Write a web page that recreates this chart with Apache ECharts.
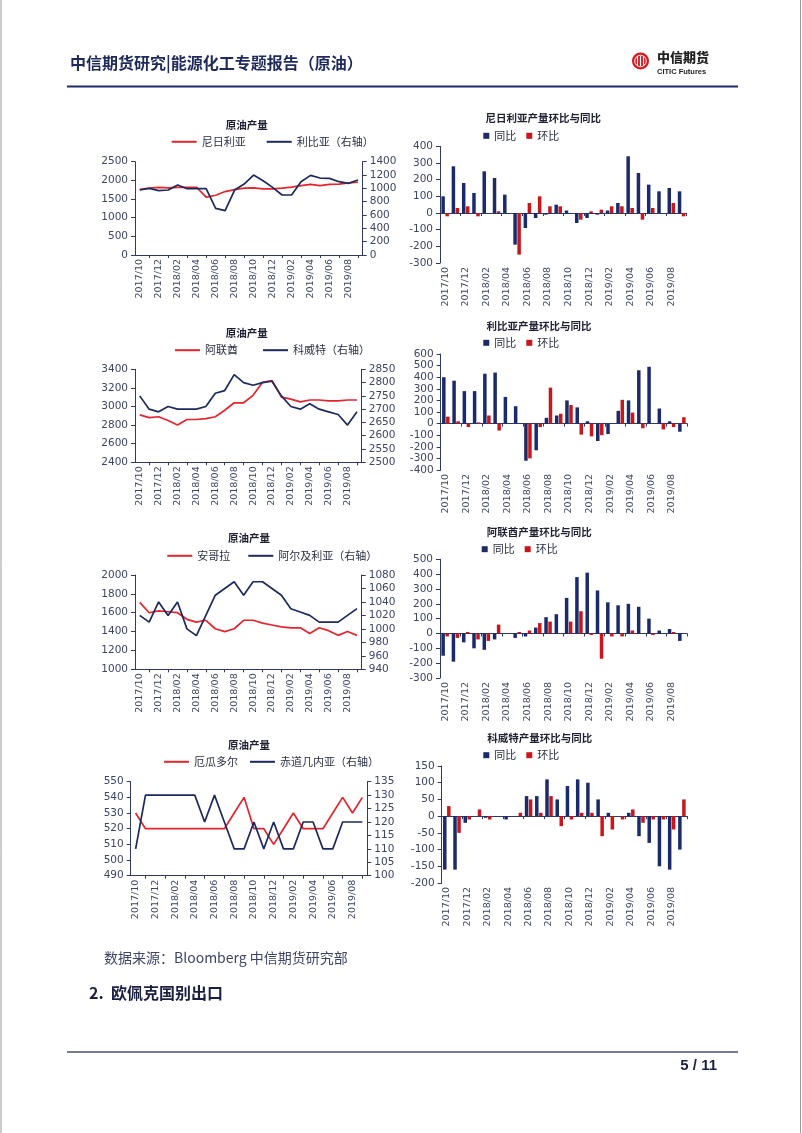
<!DOCTYPE html>
<html><head><meta charset="utf-8">
<script src="https://cdn.jsdelivr.net/npm/echarts@6/dist/echarts.min.js"></script>
<style>html,body{margin:0;padding:0;background:#fff}#c{width:802px;height:1133px}</style>
</head><body><div id="c"></div>
<script>
const months = ['2017/10','2017/11','2017/12','2018/01','2018/02','2018/03','2018/04','2018/05','2018/06','2018/07','2018/08','2018/09','2018/10','2018/11','2018/12','2019/01','2019/02','2019/03','2019/04','2019/05','2019/06','2019/07','2019/08','2019/09'];

const nigeria = [1760,1790,1810,1800,1810,1810,1810,1550,1600,1700,1750,1790,1800,1770,1770,1790,1820,1860,1890,1860,1890,1900,1930,1950];
const libya = [975,1000,965,975,1050,995,995,995,700,665,975,1065,1200,1115,1015,900,900,1100,1195,1155,1150,1100,1075,1125];
const uae = [2910,2880,2890,2850,2800,2860,2860,2870,2890,2960,3040,3040,3120,3260,3280,3100,3080,3050,3070,3070,3060,3060,3070,3070];
const kuwait = [2750,2700,2690,2710,2700,2700,2700,2710,2760,2770,2830,2800,2790,2800,2805,2750,2710,2700,2720,2700,2690,2680,2640,2690];
const angola = [1710,1600,1620,1610,1600,1530,1500,1520,1430,1400,1430,1520,1520,1490,1470,1450,1440,1440,1380,1440,1410,1360,1400,1360];
const algeria = [1020,1010,1040,1020,1040,1000,990,1020,1050,1060,1070,1050,1070,1070,1060,1050,1030,1025,1020,1010,1010,1010,1020,1030];
const ecuador = [530,520,520,520,520,520,520,520,520,520,530,540,520,520,510,520,530,520,520,520,530,540,530,540];
const eqGuinea = [110,130,130,130,130,130,130,120,130,120,110,110,120,110,120,110,110,120,120,110,110,120,120,120];

const nigeriaYoY = [100,280,180,120,250,210,110,-190,-90,-30,-10,50,15,-60,-30,-10,15,60,340,240,170,130,150,130];
const nigeriaMoM = [-20,30,40,-20,0,10,0,-250,60,100,40,40,0,-40,10,20,40,40,30,-40,30,0,60,-20];
const libyaYoY = [400,370,280,280,430,440,230,150,-320,-230,50,70,200,140,20,-150,-90,110,200,460,490,130,20,-70];
const libyaMoM = [60,20,-30,10,70,-60,0,0,-300,-30,310,85,160,-95,-110,-100,0,205,95,-40,0,-50,-30,55];
const uaeYoY = [-150,-190,-60,-100,-110,-40,0,-30,-20,40,110,130,240,380,410,290,210,190,200,180,100,20,30,-50];
const uaeMoM = [-20,-30,10,-40,-50,60,0,10,20,70,80,0,80,150,-10,-170,-20,-20,20,0,-10,0,10,0];
const kuwaitYoY = [-160,-160,-20,0,-5,0,-10,0,60,60,110,50,90,110,100,50,10,0,10,-60,-80,-150,-160,-100];
const kuwaitMoM = [30,-50,-10,20,-10,0,0,10,50,10,60,-30,-10,10,10,-60,-40,-10,20,-20,-10,-10,-40,50];

const lineTitle = '原油产量';
const barTitles = ['尼日利亚产量环比与同比','利比亚产量环比与同比','阿联酋产量环比与同比','科威特产量环比与同比'];
const yoyName = '同比', momName = '环比';

const FONT = "'DejaVu Sans','Noto Sans CJK SC',sans-serif";
const CJK = "'Noto Sans CJK SC',sans-serif";
const AX = '#2f3a62', TXT = '#3d4566';
const RED_L = '#e3252d', NAVY_L = '#1c2a5e';
const NAVY_B = '#1b2a6b', RED_B = '#c8161d';

const grids = [], xAxes = [], yAxes = [], series = [], legends = [], graphics = [];

function titleText(t, x, y) {
  graphics.push({type:'text', x:x, y:y, style:{text:t, fill:'#1e2033', font:"bold 10.5px "+CJK, textAlign:'center', textVerticalAlign:'middle', align:'center', verticalAlign:'middle'}});
}

const lineCfg = [
  {ty:125, tx:246.7, lx:171.7, ly:143.3, gap:21, g:{left:135,top:161.7,width:227.7,height:93.3}, names:['尼日利亚','利比亚（右轴）'], d:[nigeria,libya], l:[0,2500,500], r:[0,1400,200]},
  {ty:332.7, tx:246.7, lx:175, ly:351.7, gap:25, g:{left:135,top:369.3,width:226.7,height:93}, names:['阿联酋','科威特（右轴）'], d:[uae,kuwait], l:[2400,3400,200], r:[2500,2850,50]},
  {ty:538.3, tx:249, lx:167.3, ly:557.3, gap:18, g:{left:135,top:575,width:226.7,height:94.3}, names:['安哥拉','阿尔及利亚（右轴）'], d:[angola,algeria], l:[1000,2000,200], r:[940,1080,20]},
  {ty:745, tx:249, lx:164, ly:763.3, gap:12, g:{left:130.7,top:781.7,width:236.6,height:94}, names:['厄瓜多尔','赤道几内亚（右轴）'], d:[ecuador,eqGuinea], l:[490,550,10], r:[100,135,5]}
];
const barCfg = [
  {ty:118.3, tx:543.3, lx:483.3, ly:137.3, g:{left:440,top:146.3,width:246.7,height:116.7}, d:[nigeriaYoY,nigeriaMoM], y:[-300,400,100]},
  {ty:325.7, tx:539, lx:483.3, ly:344.3, g:{left:440.7,top:354,width:246.3,height:116}, d:[libyaYoY,libyaMoM], y:[-400,600,100]},
  {ty:531.7, tx:539.2, lx:481.7, ly:550.7, g:{left:440,top:559.3,width:247,height:118.7}, d:[uaeYoY,uaeMoM], y:[-300,500,100]},
  {ty:737.7, tx:539.7, lx:483.3, ly:756.7, g:{left:441.7,top:766,width:245.3,height:117}, d:[kuwaitYoY,kuwaitMoM], y:[-200,150,50]}
];

function valAxis(gi, mm, pos) {
  return {gridIndex:gi, type:'value', position:pos, min:mm[0], max:mm[1], interval:mm[2],
    axisLine:{show:true, lineStyle:{color:AX, width:1}},
    axisTick:{show:true, length:4, lineStyle:{color:AX}},
    splitLine:{show:false},
    axisLabel:{fontSize:10.5, color:TXT, fontFamily:FONT, margin:7, formatter:(v)=>String(v)}};
}
const rotLabel = {interval:1, rotate:90, fontSize:9.5, color:TXT, fontFamily:FONT, margin:4};

lineCfg.forEach(c => {
  const gi = grids.length;
  grids.push(Object.assign({containLabel:false}, c.g));
  const xi = xAxes.length;
  xAxes.push({gridIndex:gi, type:'category', data:months, boundaryGap:true,
    axisLine:{show:true, onZero:false, lineStyle:{color:AX, width:1}},
    axisTick:{show:true, alignWithLabel:true, interval:(i)=>i%2===1, length:3, lineStyle:{color:AX}},
    axisLabel:rotLabel});
  const yl = yAxes.length;
  yAxes.push(valAxis(gi, c.l, 'left'));
  yAxes.push(valAxis(gi, c.r, 'right'));
  series.push({name:c.names[0], type:'line', xAxisIndex:xi, yAxisIndex:yl, data:c.d[0], symbol:'none', lineStyle:{color:RED_L, width:1.7}, itemStyle:{color:RED_L}, silent:true});
  series.push({name:c.names[1], type:'line', xAxisIndex:xi, yAxisIndex:yl+1, data:c.d[1], symbol:'none', lineStyle:{color:NAVY_L, width:1.7}, itemStyle:{color:NAVY_L}, silent:true});
  legends.push({data:c.names, left:c.lx, top:c.ly-7, padding:0, itemGap:c.gap, icon:'rect', itemWidth:25, itemHeight:2, selectedMode:false,
    textStyle:{fontSize:11, color:'#2a2f45', fontFamily:CJK}});
  titleText(lineTitle, c.tx, c.ty);
});

barCfg.forEach((c, k) => {
  const gi = grids.length;
  grids.push(Object.assign({containLabel:false}, c.g));
  const xi = xAxes.length;
  xAxes.push({gridIndex:gi, type:'category', data:months, boundaryGap:true, position:'bottom',
    axisLine:{show:true, onZero:true, lineStyle:{color:AX, width:1}},
    axisTick:{show:true, interval:1, length:3, lineStyle:{color:AX}},
    axisLabel:{show:false}});
  xAxes.push({gridIndex:gi, type:'category', data:months, boundaryGap:true, position:'bottom',
    axisLine:{show:false, onZero:false}, axisTick:{show:false}, axisLabel:rotLabel});
  const yi = yAxes.length;
  yAxes.push(valAxis(gi, c.y, 'left'));
  series.push({name:yoyName, type:'bar', xAxisIndex:xi, yAxisIndex:yi, data:c.d[0], barWidth:3.5, barGap:'15%', itemStyle:{color:NAVY_B}, silent:true});
  series.push({name:momName, type:'bar', xAxisIndex:xi, yAxisIndex:yi, data:c.d[1], barWidth:3.5, barGap:'15%', itemStyle:{color:RED_B}, silent:true});
  legends.push({data:[yoyName, momName], left:c.lx, top:c.ly-7, padding:0, itemGap:10, icon:'rect', itemWidth:6, itemHeight:6, selectedMode:false,
    textStyle:{fontSize:11, color:'#2a2f45', fontFamily:CJK}});
  titleText(barTitles[k], c.tx, c.ty);
});

// page decorations
graphics.push({type:'line', shape:{x1:1,y1:0,x2:1,y2:1133}, style:{stroke:'#9a9a9a', lineWidth:1}});
graphics.push({type:'line', shape:{x1:800.5,y1:0,x2:800.5,y2:1133}, style:{stroke:'#9a9a9a', lineWidth:1}});
graphics.push({type:'text', x:70, y:63, style:{text:'中信期货研究|能源化工专题报告（原油）', fill:'#1f2a5c', font:"bold 16px "+CJK, textVerticalAlign:'middle', verticalAlign:'middle'}});
graphics.push({type:'line', shape:{x1:67,y1:86.5,x2:738,y2:86.5}, style:{stroke:'#1f2a6b', lineWidth:2}});
graphics.push({type:'circle', shape:{cx:640.5,cy:61,r:8.5}, style:{fill:'#d7141a'}});
graphics.push({type:'circle', shape:{cx:640.5,cy:61,r:5.8}, style:{fill:'none', stroke:'#fff', lineWidth:1}});
[-3,0,3].forEach(dx => graphics.push({type:'rect', shape:{x:640.5+dx-0.6,y:56,width:1.2,height:10}, style:{fill:'#fff'}}));
graphics.push({type:'text', x:657, y:57, style:{text:'中信期货', fill:'#222', font:"900 13px "+CJK, textVerticalAlign:'middle', verticalAlign:'middle'}});
graphics.push({type:'text', x:657, y:71.5, style:{text:'CITIC Futures', fill:'#222', font:"bold 7.5px 'Liberation Sans',sans-serif", textVerticalAlign:'middle', verticalAlign:'middle'}});
graphics.push({type:'text', x:104, y:958, style:{text:'数据来源：Bloomberg 中信期货研究部', fill:'#3d4566', font:"14px "+CJK, textVerticalAlign:'middle', verticalAlign:'middle'}});
graphics.push({type:'text', x:89, y:993, style:{text:'2.  欧佩克国别出口', fill:'#1a2040', font:"bold 16px "+CJK, textVerticalAlign:'middle', verticalAlign:'middle'}});
graphics.push({type:'line', shape:{x1:67,y1:1052,x2:738,y2:1052}, style:{stroke:'#4a5070', lineWidth:1.5}});
graphics.push({type:'text', x:717, y:1066, style:{text:'5 / 11', fill:'#1a2040', font:"bold 15px 'Liberation Sans',sans-serif", textAlign:'right', align:'right', textVerticalAlign:'middle', verticalAlign:'middle'}});

const chart = echarts.init(document.getElementById('c'), null, {renderer:'canvas'});
chart.setOption({
  animation:false,
  backgroundColor:'#fff',
  grid:grids, xAxis:xAxes, yAxis:yAxes, series:series, legend:legends,
  graphic:graphics
});
</script></body></html>
